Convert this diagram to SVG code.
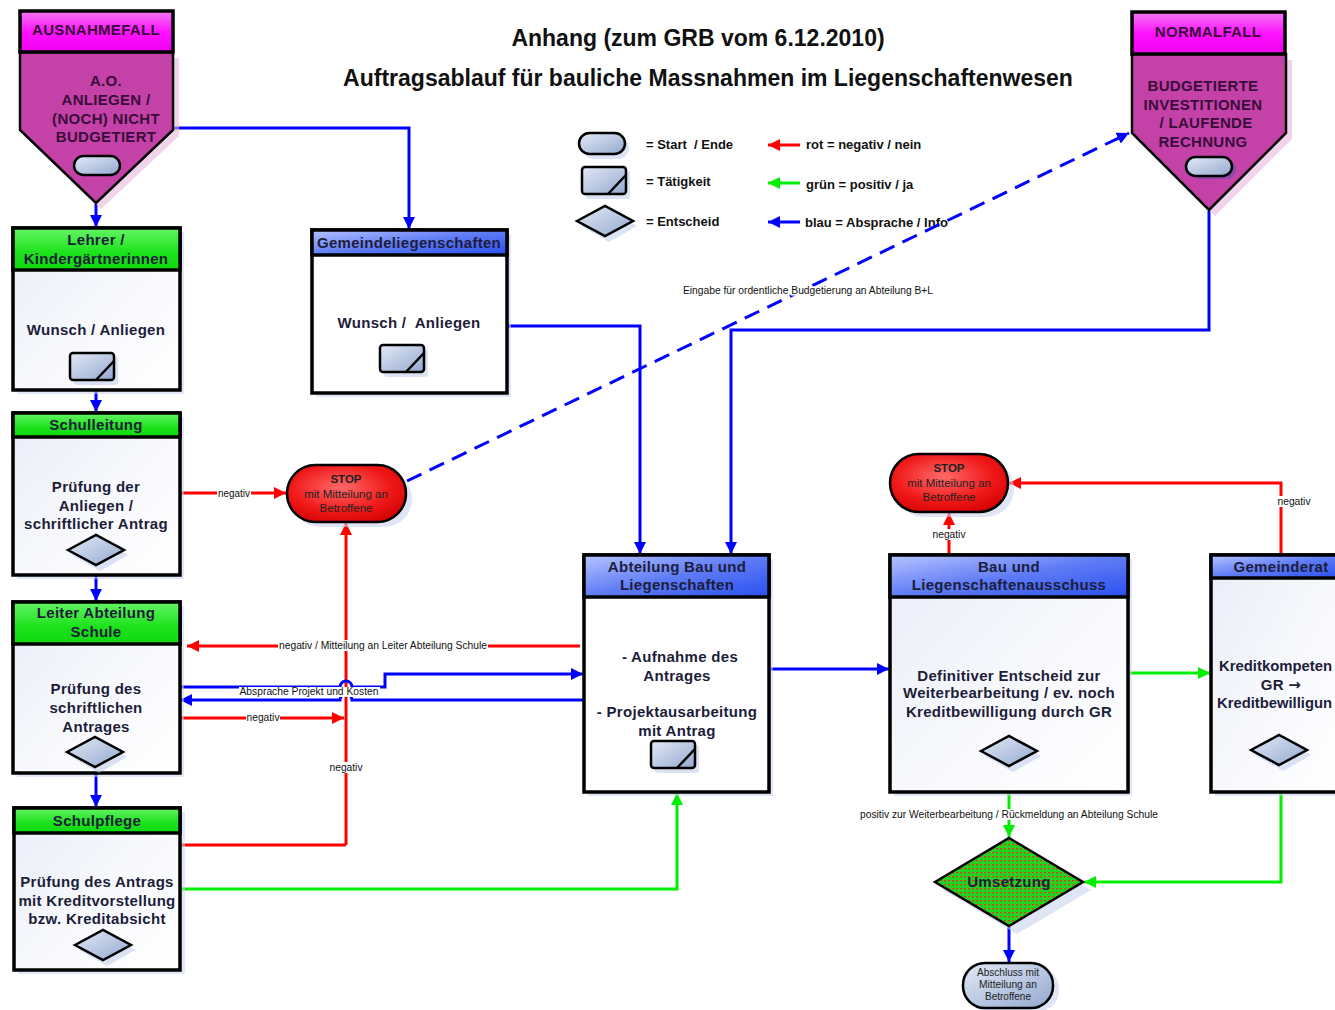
<svg xmlns="http://www.w3.org/2000/svg" width="1335" height="1010" viewBox="0 0 1335 1010">
<defs>
  <linearGradient id="gBody" x1="0" y1="0" x2="1" y2="1">
    <stop offset="0" stop-color="#e9edf8"/>
    <stop offset="0.5" stop-color="#f7f8fc"/>
    <stop offset="1" stop-color="#ffffff"/>
  </linearGradient>
  <linearGradient id="gGreen" x1="0" y1="0" x2="0" y2="1">
    <stop offset="0" stop-color="#66f466"/>
    <stop offset="0.6" stop-color="#1be21b"/>
    <stop offset="1" stop-color="#10d810"/>
  </linearGradient>
  <linearGradient id="gBlue" x1="0" y1="0" x2="1" y2="1">
    <stop offset="0" stop-color="#b8c4ff"/>
    <stop offset="0.5" stop-color="#5f7cf5"/>
    <stop offset="1" stop-color="#2a4ff0"/>
  </linearGradient>
  <linearGradient id="gMag" x1="0" y1="0" x2="0" y2="1">
    <stop offset="0" stop-color="#f27af2"/>
    <stop offset="0.5" stop-color="#ff14ff"/>
    <stop offset="1" stop-color="#f000f0"/>
  </linearGradient>
  <linearGradient id="gIcon" x1="0" y1="0" x2="1" y2="1">
    <stop offset="0" stop-color="#e4eaf6"/>
    <stop offset="1" stop-color="#93a8d0"/>
  </linearGradient>
  <radialGradient id="gStop" cx="0.45" cy="0.4" r="0.7">
    <stop offset="0" stop-color="#ff6a6a"/>
    <stop offset="0.6" stop-color="#f01818"/>
    <stop offset="1" stop-color="#d00000"/>
  </radialGradient>
  <pattern id="pDots" width="4" height="4" patternUnits="userSpaceOnUse">
    <rect width="4" height="4" fill="#22d422"/>
    <rect x="0" y="0" width="2" height="1.3" fill="#e03a1a"/>
  </pattern>
  <marker id="aR" viewBox="0 0 10 10" refX="10" refY="5" markerWidth="12" markerHeight="12" markerUnits="userSpaceOnUse" orient="auto">
    <path d="M0,0 L10,5 L0,10 z" fill="#ff0000"/>
  </marker>
  <marker id="aG" viewBox="0 0 10 10" refX="10" refY="5" markerWidth="12" markerHeight="12" markerUnits="userSpaceOnUse" orient="auto">
    <path d="M0,0 L10,5 L0,10 z" fill="#00ee00"/>
  </marker>
  <marker id="aB" viewBox="0 0 10 10" refX="10" refY="5" markerWidth="12" markerHeight="12" markerUnits="userSpaceOnUse" orient="auto">
    <path d="M0,0 L10,5 L0,10 z" fill="#0000ff"/>
  </marker>
  <g id="task">
    <rect x="4" y="4" width="44" height="28" rx="3" fill="#b9c8e8" opacity="0.5"/>
    <rect x="0" y="0" width="44" height="27" rx="3" fill="url(#gIcon)" stroke="#000" stroke-width="2.5"/>
    <path d="M26,27 L44,8" stroke="#000" stroke-width="2.5" fill="none"/>
  </g>
  <g id="dia">
    <path d="M4,5 L32,-11 L60,5 L32,21 z" fill="#b9c8e8" opacity="0.5"/>
    <path d="M0,0 L28,-15 L56,0 L28,15 z" fill="url(#gIcon)" stroke="#000" stroke-width="2.5"/>
  </g>
</defs>
<style>
  .box { stroke: #000; stroke-width: 3.5; }
  .body { fill: url(#gBody); }
  .shadow { fill: #c9d3ee; opacity: 0.55; }
  .hd, .tx { font-family: "Liberation Sans", Arial, sans-serif; font-weight: bold; font-size: 15px; letter-spacing: 0.3px; fill: #1d1d3a; text-anchor: middle; }
  .tx.left { text-anchor: start; letter-spacing: 0; }
  .mg { font-family: "Liberation Sans", Arial, sans-serif; font-weight: bold; font-size: 15px; letter-spacing: 0.3px; fill: #3a0c3a; text-anchor: middle; }
  .ttl { font-family: "Liberation Sans", Arial, sans-serif; font-weight: bold; font-size: 23px; fill: #111; text-anchor: middle; }
  .lg { font-family: "Liberation Sans", Arial, sans-serif; font-weight: bold; font-size: 13px; fill: #111; }
  .lb { font-family: "Liberation Sans", Arial, sans-serif; font-size: 10px; fill: #111; text-anchor: middle; }
  .lbg { fill: #fff; }
  .st { font-family: "Liberation Sans", Arial, sans-serif; font-size: 11.5px; fill: #222; text-anchor: middle; }
  .rl { fill: none; stroke: #ff0000; stroke-width: 3; }
  .gl { fill: none; stroke: #00ee00; stroke-width: 3; }
  .bl { fill: none; stroke: #0000ff; stroke-width: 3; }
</style>

<!-- title -->
<text class="ttl" x="698" y="46">Anhang (zum GRB vom 6.12.2010)</text>
<text class="ttl" x="708" y="86">Auftragsablauf für bauliche Massnahmen im Liegenschaftenwesen</text>

<!-- legend -->
<g id="legend">
  <rect x="583" y="137" width="46" height="22" rx="11" fill="#b9c8e8" opacity="0.5"/>
  <rect x="579" y="133" width="46" height="21" rx="10.5" fill="url(#gIcon)" stroke="#000" stroke-width="2.5"/>
  <use href="#task" x="582" y="167"/>
  <use href="#dia" x="577" y="221"/>
  <text class="lg" x="646" y="149" xml:space="preserve">= Start  / Ende</text>
  <text class="lg" x="646" y="186">= Tätigkeit</text>
  <text class="lg" x="646" y="226">= Entscheid</text>
  <line x1="800" y1="145" x2="768" y2="145" class="rl" marker-end="url(#aR)"/>
  <line x1="800" y1="183" x2="768" y2="183" class="gl" marker-end="url(#aG)"/>
  <line x1="800" y1="222" x2="768" y2="222" class="bl" marker-end="url(#aB)"/>
  <text class="lg" x="806" y="149">rot = negativ / nein</text>
  <text class="lg" x="806" y="189">grün = positiv / ja</text>
  <text class="lg" x="805" y="227">blau = Absprache / Info</text>
</g>

<!-- connectors -->
<g id="connectors">
  <line x1="96" y1="204" x2="96" y2="227" class="bl" marker-end="url(#aB)"/>
  <path d="M173,128 H409 V229" class="bl" marker-end="url(#aB)"/>
  <line x1="96" y1="391" x2="96" y2="412" class="bl" marker-end="url(#aB)"/>
  <line x1="96" y1="576" x2="96" y2="601" class="bl" marker-end="url(#aB)"/>
  <line x1="96" y1="774" x2="96" y2="807" class="bl" marker-end="url(#aB)"/>
  <line x1="180" y1="493" x2="286" y2="493" class="rl" marker-end="url(#aR)"/>
  <path d="M407,481 L1129,133" class="bl" stroke-dasharray="16 9" marker-end="url(#aB)"/>
  <path d="M507,326 H640 V554" class="bl" marker-end="url(#aB)"/>
  <path d="M1209,211 V330 H731 V554" class="bl" marker-end="url(#aB)"/>
  <line x1="580" y1="646" x2="187" y2="646" class="rl" marker-end="url(#aR)"/>
  <path d="M346,845 V523" class="rl" marker-end="url(#aR)"/>
  <path d="M180,687 H340 A6,6 0 0 1 352,687 H385 V674 H583" class="bl" stroke-width="2.5" marker-end="url(#aB)"/>
  <path d="M584,700 H352 A6,6 0 0 0 340,700 H180" class="bl" stroke-width="2.5" marker-end="url(#aB)"/>
  <line x1="180" y1="718" x2="344" y2="718" class="rl" marker-end="url(#aR)"/>
  <path d="M180,845 H346" class="rl"/>
  <path d="M180,889 H677 V793" class="gl" marker-end="url(#aG)"/>
  <line x1="769" y1="669" x2="889" y2="669" class="bl" marker-end="url(#aB)"/>
  <line x1="949" y1="555" x2="949" y2="513" class="rl" marker-end="url(#aR)"/>
  <path d="M1281,555 V483 H1009" class="rl" marker-end="url(#aR)"/>
  <line x1="1128" y1="673" x2="1210" y2="673" class="gl" marker-end="url(#aG)"/>
  <line x1="1009" y1="792" x2="1009" y2="837" class="gl" marker-end="url(#aG)"/>
  <path d="M1281,792 V882 H1084" class="gl" marker-end="url(#aG)"/>
  <line x1="1009" y1="927" x2="1009" y2="962" class="bl" marker-end="url(#aB)"/>

  <!-- connector labels on white plates -->
  <rect class="lbg" x="217" y="488" width="34" height="11"/>
  <text class="lb" x="234" y="497" textLength="32" lengthAdjust="spacingAndGlyphs">negativ</text>
  <text class="lb" x="808" y="294" textLength="250" lengthAdjust="spacingAndGlyphs" stroke="#fff" stroke-width="3" paint-order="stroke">Eingabe für ordentliche Budgetierung an Abteilung B+L</text>
  <rect class="lbg" x="278" y="640" width="210" height="11"/>
  <text class="lb" x="383" y="649" textLength="208" lengthAdjust="spacingAndGlyphs">negativ / Mitteilung an Leiter Abteilung Schule</text>
  <rect class="lbg" x="239" y="687" width="141" height="10"/>
  <text class="lb" x="309" y="695" textLength="139" lengthAdjust="spacingAndGlyphs">Absprache Projekt und Kosten</text>
  <rect class="lbg" x="246" y="712" width="34" height="11"/>
  <text class="lb" x="263" y="721" textLength="33" lengthAdjust="spacingAndGlyphs">negativ</text>
  <rect class="lbg" x="329" y="762" width="34" height="11"/>
  <text class="lb" x="346" y="771" textLength="33" lengthAdjust="spacingAndGlyphs">negativ</text>
  <rect class="lbg" x="932" y="529" width="34" height="11"/>
  <text class="lb" x="949" y="538" textLength="33" lengthAdjust="spacingAndGlyphs">negativ</text>
  <rect class="lbg" x="1277" y="496" width="34" height="11"/>
  <text class="lb" x="1294" y="505" textLength="33" lengthAdjust="spacingAndGlyphs">negativ</text>
  <rect class="lbg" x="859" y="809" width="300" height="11"/>
  <text class="lb" x="1009" y="818" textLength="298" lengthAdjust="spacingAndGlyphs">positiv zur Weiterbearbeitung / Rückmeldung an Abteilung Schule</text>
</g>

<!-- Ausnahmefall -->
<g id="ausnahmefall">
  <path d="M24,58 H179 V136 L101,209 L24,136 z" fill="#e8b8e0" opacity="0.6"/>
  <path d="M20,52 H173 V130 L96,203 L20,130 z" fill="#c442a8" stroke="#000" stroke-width="2.5"/>
  <rect x="20" y="11" width="153" height="41" fill="url(#gMag)" class="box"/>
  <text class="mg" x="96" y="35">AUSNAHMEFALL</text>
  <text class="mg" x="106" y="86">A.O.</text>
  <text class="mg" x="106" y="105">ANLIEGEN /</text>
  <text class="mg" x="106" y="124">(NOCH) NICHT</text>
  <text class="mg" x="106" y="142">BUDGETIERT</text>
  <rect x="77" y="158" width="44" height="18" rx="9" fill="#6a4aa8" opacity="0.6"/>
  <rect x="74" y="156" width="46" height="19" rx="9.5" fill="url(#gIcon)" stroke="#000" stroke-width="2.5"/>
</g>

<!-- Normalfall -->
<g id="normalfall">
  <path d="M1136,60 H1292 V139 L1215,216 L1136,139 z" fill="#e8b8e0" opacity="0.6"/>
  <path d="M1132,54 H1286 V133 L1209,210 L1132,133 z" fill="#c442a8" stroke="#000" stroke-width="2.5"/>
  <rect x="1132" y="12" width="153" height="42" fill="url(#gMag)" class="box"/>
  <text class="mg" x="1208" y="37">NORMALFALL</text>
  <text class="mg" x="1203" y="91">BUDGETIERTE</text>
  <text class="mg" x="1203" y="110">INVESTITIONEN</text>
  <text class="mg" x="1206" y="128">/ LAUFENDE</text>
  <text class="mg" x="1203" y="147">RECHNUNG</text>
  <rect x="1190" y="160" width="46" height="19" rx="9.5" fill="#6a4aa8" opacity="0.6"/>
  <rect x="1186" y="157" width="46" height="19" rx="9.5" fill="url(#gIcon)" stroke="#000" stroke-width="2.5"/>
</g>

<!-- Lehrer / Kindergärtnerinnen -->
<g id="lehrer">
  <rect x="17" y="232" width="167" height="162" class="shadow"/>
  <rect x="13" y="228" width="167" height="162" class="box body"/>
  <rect x="13" y="228" width="167" height="42" fill="url(#gGreen)" class="box"/>
  <text class="hd" x="96" y="245">Lehrer /</text>
  <text class="hd" x="96" y="264">Kindergärtnerinnen</text>
  <text class="tx" x="96" y="335">Wunsch / Anliegen</text>
  <use href="#task" x="70" y="353"/>
</g>

<!-- Schulleitung -->
<g id="schulleitung">
  <rect x="17" y="417" width="167" height="162" class="shadow"/>
  <rect x="13" y="413" width="167" height="162" class="box body"/>
  <rect x="13" y="413" width="167" height="24" fill="url(#gGreen)" class="box"/>
  <text class="hd" x="96" y="430">Schulleitung</text>
  <text class="tx" x="96" y="492">Prüfung der</text>
  <text class="tx" x="96" y="511">Anliegen /</text>
  <text class="tx" x="96" y="529">schriftlicher Antrag</text>
  <use href="#dia" x="68" y="550"/>
</g>

<!-- Leiter Abteilung Schule -->
<g id="leiter-abteilung-schule">
  <rect x="17" y="606" width="167" height="171" class="shadow"/>
  <rect x="13" y="602" width="167" height="171" class="box body"/>
  <rect x="13" y="602" width="167" height="42" fill="url(#gGreen)" class="box"/>
  <text class="hd" x="96" y="618">Leiter Abteilung</text>
  <text class="hd" x="96" y="637">Schule</text>
  <text class="tx" x="96" y="694">Prüfung des</text>
  <text class="tx" x="96" y="713">schriftlichen</text>
  <text class="tx" x="96" y="732">Antrages</text>
  <use href="#dia" x="67" y="752"/>
</g>

<!-- Schulpflege -->
<g id="schulpflege">
  <rect x="18" y="812" width="167" height="162" class="shadow"/>
  <rect x="14" y="808" width="166" height="162" class="box body"/>
  <rect x="14" y="808" width="166" height="25" fill="url(#gGreen)" class="box"/>
  <text class="hd" x="97" y="826">Schulpflege</text>
  <text class="tx" x="97" y="887">Prüfung des Antrags</text>
  <text class="tx" x="97" y="906">mit Kreditvorstellung</text>
  <text class="tx" x="97" y="924">bzw. Kreditabsicht</text>
  <use href="#dia" x="75" y="945"/>
</g>

<!-- Gemeindeliegenschaften -->
<g id="gemeindeliegenschaften">
  <rect x="316" y="234" width="195" height="163" class="shadow"/>
  <rect x="312" y="230" width="195" height="163" class="box" fill="#fff"/>
  <rect x="312" y="230" width="195" height="25" fill="url(#gBlue)" class="box"/>
  <text class="hd" x="409" y="248">Gemeindeliegenschaften</text>
  <text class="tx" x="409" y="328" xml:space="preserve">Wunsch /  Anliegen</text>
  <use href="#task" x="380" y="345"/>
</g>

<!-- STOP (left) -->
<g id="stop-links">
  <rect x="292" y="471" width="120" height="56" rx="28" fill="#c9d3ee" opacity="0.6"/>
  <rect x="287" y="465" width="119" height="57" rx="28.5" fill="url(#gStop)" stroke="#000" stroke-width="2.5"/>
  <text class="st" x="346" y="483" font-weight="bold" font-size="13">STOP</text>
  <text class="st" x="346" y="498">mit Mitteilung an</text>
  <text class="st" x="346" y="512">Betroffene</text>
</g>

<!-- Abteilung Bau und Liegenschaften -->
<g id="abteilung-bau">
  <rect x="588" y="559" width="185" height="237" class="shadow"/>
  <rect x="584" y="555" width="185" height="237" class="box" fill="#fff"/>
  <rect x="584" y="555" width="185" height="42" fill="url(#gBlue)" class="box"/>
  <text class="hd" x="677" y="572">Abteilung Bau und</text>
  <text class="hd" x="677" y="590">Liegenschaften</text>
  <text class="tx" x="680" y="662">- Aufnahme des</text>
  <text class="tx" x="677" y="681">Antrages</text>
  <text class="tx" x="677" y="717">- Projektausarbeitung</text>
  <text class="tx" x="677" y="736">mit Antrag</text>
  <use href="#task" x="651" y="741"/>
</g>

<!-- Bau und Liegenschaftenausschuss -->
<g id="ausschuss">
  <rect x="894" y="559" width="238" height="237" class="shadow"/>
  <rect x="890" y="555" width="238" height="237" class="box body"/>
  <rect x="890" y="555" width="238" height="42" fill="url(#gBlue)" class="box"/>
  <text class="hd" x="1009" y="572">Bau und</text>
  <text class="hd" x="1009" y="590">Liegenschaftenausschuss</text>
  <text class="tx" x="1009" y="681">Definitiver Entscheid zur</text>
  <text class="tx" x="1009" y="698">Weiterbearbeitung / ev. noch</text>
  <text class="tx" x="1009" y="717">Kreditbewilligung durch GR</text>
  <use href="#dia" x="981" y="751"/>
</g>

<!-- STOP (right) -->
<g id="stop-rechts">
  <rect x="895" y="460" width="119" height="57" rx="28.5" fill="#c9d3ee" opacity="0.6"/>
  <rect x="890" y="454" width="118" height="58" rx="29" fill="url(#gStop)" stroke="#000" stroke-width="2.5"/>
  <text class="st" x="949" y="472" font-weight="bold" font-size="13">STOP</text>
  <text class="st" x="949" y="487">mit Mitteilung an</text>
  <text class="st" x="949" y="501">Betroffene</text>
</g>

<!-- Gemeinderat (runs past the right edge of the sheet) -->
<g id="gemeinderat">
  <rect x="1215" y="559" width="130" height="237" class="shadow"/>
  <rect x="1211" y="555" width="130" height="237" class="box body"/>
  <rect x="1211" y="555" width="130" height="23" fill="url(#gBlue)" class="box"/>
  <text class="hd" x="1281" y="572">Gemeinderat</text>
  <text class="tx left" x="1219" y="671" textLength="113" lengthAdjust="spacingAndGlyphs">Kreditkompeten</text>
  <text class="tx" x="1281" y="690">GR <tspan font-family="DejaVu Sans, sans-serif" font-size="15">→</tspan></text>
  <text class="tx left" x="1217" y="708" textLength="115" lengthAdjust="spacingAndGlyphs">Kreditbewilligun</text>
  <use href="#dia" x="1251" y="750"/>
</g>

<!-- Umsetzung -->
<g id="umsetzung">
  <path d="M943,890 L1017,846 L1091,890 L1017,934 z" fill="#c9d3ee" opacity="0.6"/>
  <path d="M935,882 L1009,838 L1083,882 L1009,926 z" fill="url(#pDots)" stroke="#000" stroke-width="2.5"/>
  <text class="tx" x="1009" y="887" fill="#222">Umsetzung</text>
</g>

<!-- Abschluss -->
<g id="abschluss">
  <rect x="967" y="967" width="92" height="45" rx="22" fill="#c9d3ee" opacity="0.6"/>
  <rect x="963" y="963" width="90" height="45" rx="22" fill="url(#gIcon)" stroke="#000" stroke-width="2.5"/>
  <text class="st" x="1008" y="976" font-size="10" textLength="62" lengthAdjust="spacingAndGlyphs">Abschluss mit</text>
  <text class="st" x="1008" y="988" font-size="10" textLength="58" lengthAdjust="spacingAndGlyphs">Mitteilung an</text>
  <text class="st" x="1008" y="1000" font-size="10" textLength="46" lengthAdjust="spacingAndGlyphs">Betroffene</text>
</g>
</svg>
